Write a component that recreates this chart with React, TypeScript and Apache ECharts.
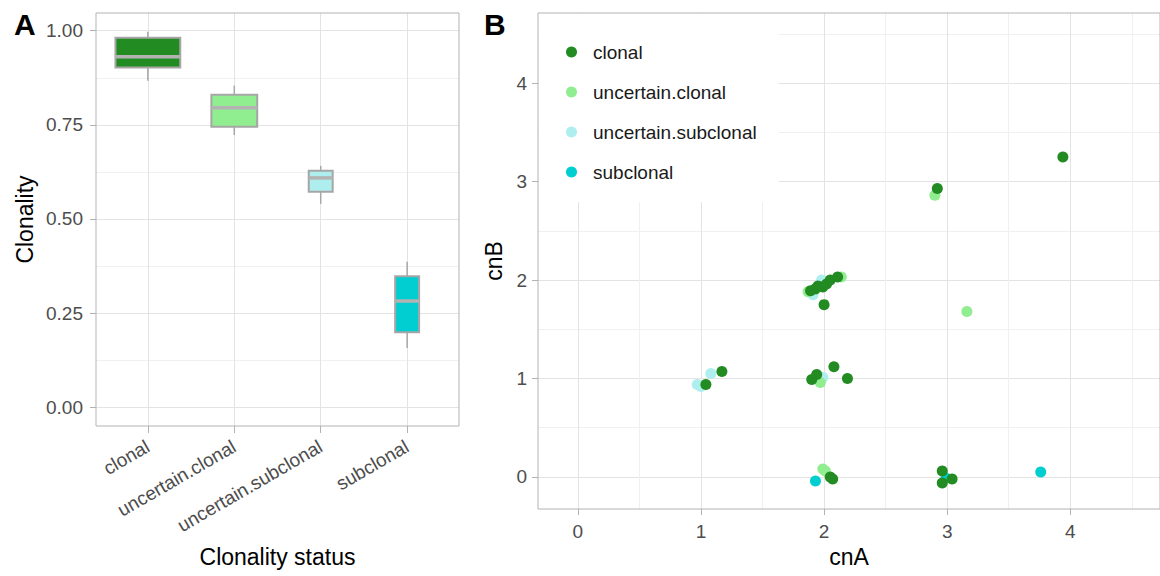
import React, { useEffect, useRef } from "react";
import * as echarts from "echarts";

// ---------- Panel A data ----------
const categories = ["clonal", "uncertain.clonal", "uncertain.subclonal", "subclonal"];
// [lower whisker, Q1, median, Q3, upper whisker]
const clonalBox = [0.867, 0.902, 0.931, 0.981, 0.997];
const uncertainClonalBox = [0.723, 0.745, 0.795, 0.83, 0.854];
const uncertainSubclonalBox = [0.54, 0.572, 0.609, 0.628, 0.641];
const subclonalBox = [0.157, 0.199, 0.282, 0.348, 0.386];
const boxCounts = [22, 11, 3, 3];
const clonalityTicks = [0, 0.25, 0.5, 0.75, 1];
const clonalityMinorTicks = [0.125, 0.375, 0.625, 0.875];
const categoryTicks = [1, 2, 3, 4];

// ---------- Panel B data ([cnA, cnB]) ----------
const clonalPoints = [
  [1.04, 0.94], [1.17, 1.07],
  [1.9, 0.99], [1.94, 1.04], [2.08, 1.12], [2.19, 1.0],
  [1.89, 1.89], [1.93, 1.91], [1.95, 1.94], [1.99, 1.93], [2.02, 1.96], [2.05, 2.0], [2.11, 2.03], [2.0, 1.75],
  [2.92, 2.93], [3.94, 3.25],
  [2.05, 0.0], [2.07, -0.02],
  [2.96, 0.06], [2.96, -0.06], [3.04, -0.02],
];
const uncertainClonalPoints = [
  [1.87, 1.88], [2.14, 2.03], [2.9, 2.86], [3.16, 1.68], [1.97, 0.96], [1.99, 0.08], [2.01, 0.06],
];
const uncertainSubclonalPoints = [
  [0.97, 0.94], [1.0, 0.92], [1.08, 1.05], [1.91, 1.85], [1.98, 2.0], [1.99, 1.01],
];
const subclonalPoints = [[1.93, -0.04], [3.76, 0.05], [2.99, -0.01]];
const cnTicks = [0, 1, 2, 3, 4];
const cnMinorTicks = [0.5, 1.5, 2.5, 3.5, 4.5];

// ---------- styles ----------
const COLORS: Record<string, string> = {
  clonal: "#228B22",
  "uncertain.clonal": "#90EE90",
  "uncertain.subclonal": "#AFEEEE",
  subclonal: "#00CED1",
};
const FONT = "'Liberation Sans', Arial, Helvetica, sans-serif";
const MAJOR = "#e3e3e3";
const MINOR = "#f0f0f0";
const BORDER = "#b3b3b3";
const TICKTEXT = "#4d4d4d";

function valueAxis(gridIndex: number, min: number, max: number, ticks: number[], fmt: (v: number) => string, margin: number, extra: any = {}) {
  return {
    type: "value",
    gridIndex,
    min,
    max,
    axisLine: { show: false, onZero: false },
    axisTick: { show: true, length: 6, lineStyle: { color: BORDER, width: 1 }, customValues: ticks },
    axisLabel: {
      show: true,
      customValues: ticks,
      formatter: fmt,
      color: TICKTEXT,
      fontSize: 19,
      fontFamily: FONT,
      margin,
    },
    splitLine: { show: true, lineStyle: { color: MAJOR, width: 1 } },
    nameTextStyle: { fontSize: 23, color: "#000", fontFamily: FONT },
    ...extra,
  };
}

function minorAxis(gridIndex: number, min: number, max: number, ticks: number[]) {
  return {
    type: "value",
    gridIndex,
    min,
    max,
    axisLine: { show: false, onZero: false },
    axisTick: { show: false, customValues: ticks },
    axisLabel: { show: false, customValues: ticks },
    splitLine: { show: true, lineStyle: { color: MINOR, width: 1 } },
  };
}

export default function App() {
  const ref = useRef<HTMLDivElement>(null);
  useEffect(() => {
    if (!ref.current) return;
    const chart = echarts.init(ref.current, undefined, { renderer: "svg" });
    const boxes = [clonalBox, uncertainClonalBox, uncertainSubclonalBox, subclonalBox];
    const maxN = Math.max(...boxCounts);
    const boxData = boxes.map((s, i) => [categoryTicks[i], ...s, boxCounts[i]]);

    const scatter = (name: string, data: number[][]) => ({
      type: "scatter",
      name,
      xAxisIndex: 2,
      yAxisIndex: 2,
      data,
      symbol: "circle",
      symbolSize: 11,
      itemStyle: { color: COLORS[name], opacity: 1 },
      emphasis: { disabled: true },
    });

    const option: any = {
      animation: false,
      textStyle: { fontFamily: FONT },
      grid: [
        { left: 96, top: 13, width: 363, height: 413, show: true, borderColor: BORDER, borderWidth: 1, backgroundColor: "transparent", z: 3 },
        { left: 538, top: 13, width: 624, height: 496, show: true, borderColor: BORDER, borderWidth: 1, backgroundColor: "transparent", z: 3 },
      ],
      xAxis: [
        valueAxis(0, 0.4, 4.6, categoryTicks, (v: number) => categories[Math.round(v) - 1] ?? "", 20, {
          name: "Clonality status",
          nameLocation: "middle",
          nameGap: 119,
          axisTick: { show: true, length: 7, lineStyle: { color: BORDER, width: 1 }, customValues: categoryTicks },
          axisLabel: {
            customValues: categoryTicks,
            formatter: (v: number) => categories[Math.round(v) - 1] ?? "",
            rotate: 30,
            color: TICKTEXT,
            fontSize: 19,
            fontFamily: FONT,
            margin: 19,
          },
        }),
        valueAxis(1, -0.324, 4.729, cnTicks, (v: number) => String(Math.round(v)), 13, {
          name: "cnA",
          nameLocation: "middle",
          nameGap: 34,
        }),
        minorAxis(1, -0.324, 4.729, cnMinorTicks),
      ],
      yAxis: [
        valueAxis(0, -0.05, 1.047, clonalityTicks, (v: number) => v.toFixed(2), 13, {
          name: "Clonality",
          nameLocation: "middle",
          nameGap: 60,
        }),
        minorAxis(0, -0.05, 1.047, clonalityMinorTicks),
        valueAxis(1, -0.325, 4.711, cnTicks, (v: number) => String(Math.round(v)), 11, {
          name: "cnB",
          nameLocation: "middle",
          nameGap: 31,
        }),
        minorAxis(1, -0.325, 4.711, cnMinorTicks),
      ],
      legend: {
        data: ["clonal", "uncertain.clonal", "uncertain.subclonal", "subclonal"],
        orient: "vertical",
        left: 539,
        top: 14,
        backgroundColor: "#ffffff",
        padding: [28, 22, 20, 27],
        itemWidth: 11,
        itemHeight: 11,
        itemGap: 20,
        icon: "circle",
        selectedMode: false,
        textStyle: { fontSize: 19, color: "#1a1a1a", fontFamily: FONT, lineHeight: 20, padding: [0, 0, 0, 11] },
      },
      graphic: [
        { type: "text", left: 14, top: 9, style: { text: "A", fontSize: 30, fontWeight: "bold", fill: "#000", fontFamily: FONT } },
        { type: "text", left: 484, top: 9, style: { text: "B", fontSize: 30, fontWeight: "bold", fill: "#000", fontFamily: FONT } },
      ],
      series: [
        {
          type: "custom",
          name: "boxes",
          xAxisIndex: 0,
          yAxisIndex: 0,
          data: boxData,
          encode: { x: 0, y: [1, 2, 3, 4, 5] },
          z: 4,
          renderItem: (params: any, api: any) => {
            const x = api.value(0);
            const lo = api.value(1);
            const q1 = api.value(2);
            const med = api.value(3);
            const q3 = api.value(4);
            const hi = api.value(5);
            const n = api.value(6);
            const half = 0.375 * Math.sqrt(n / maxN);
            const color = COLORS[categories[Math.round(x) - 1]];
            const tl = api.coord([x - half, q3]);
            const br = api.coord([x + half, q1]);
            const pHi = api.coord([x, hi]);
            const pQ3 = api.coord([x, q3]);
            const pQ1 = api.coord([x, q1]);
            const pLo = api.coord([x, lo]);
            const mL = api.coord([x - half, med]);
            const mR = api.coord([x + half, med]);
            const stroke = "#a6a6a6";
            return {
              type: "group",
              children: [
                { type: "line", shape: { x1: pHi[0], y1: pHi[1], x2: pQ3[0], y2: pQ3[1] }, style: { stroke, lineWidth: 1.5 } },
                { type: "line", shape: { x1: pQ1[0], y1: pQ1[1], x2: pLo[0], y2: pLo[1] }, style: { stroke, lineWidth: 1.5 } },
                {
                  type: "rect",
                  shape: { x: tl[0], y: tl[1], width: br[0] - tl[0], height: br[1] - tl[1] },
                  style: { fill: color, stroke, lineWidth: 2 },
                },
                { type: "line", shape: { x1: mL[0], y1: mL[1], x2: mR[0], y2: mR[1] }, style: { stroke: "#b3b3b3", lineWidth: 3.5 } },
              ],
            };
          },
        },
        scatter("subclonal", subclonalPoints),
        scatter("uncertain.subclonal", uncertainSubclonalPoints),
        scatter("uncertain.clonal", uncertainClonalPoints),
        scatter("clonal", clonalPoints),
      ],
    };
    chart.setOption(option);
    return () => chart.dispose();
  }, []);
  return (
    <div
      ref={ref}
      style={{ position: "absolute", left: 0, top: 0, width: 1160, height: 576, background: "#fff" }}
    />
  );
}
